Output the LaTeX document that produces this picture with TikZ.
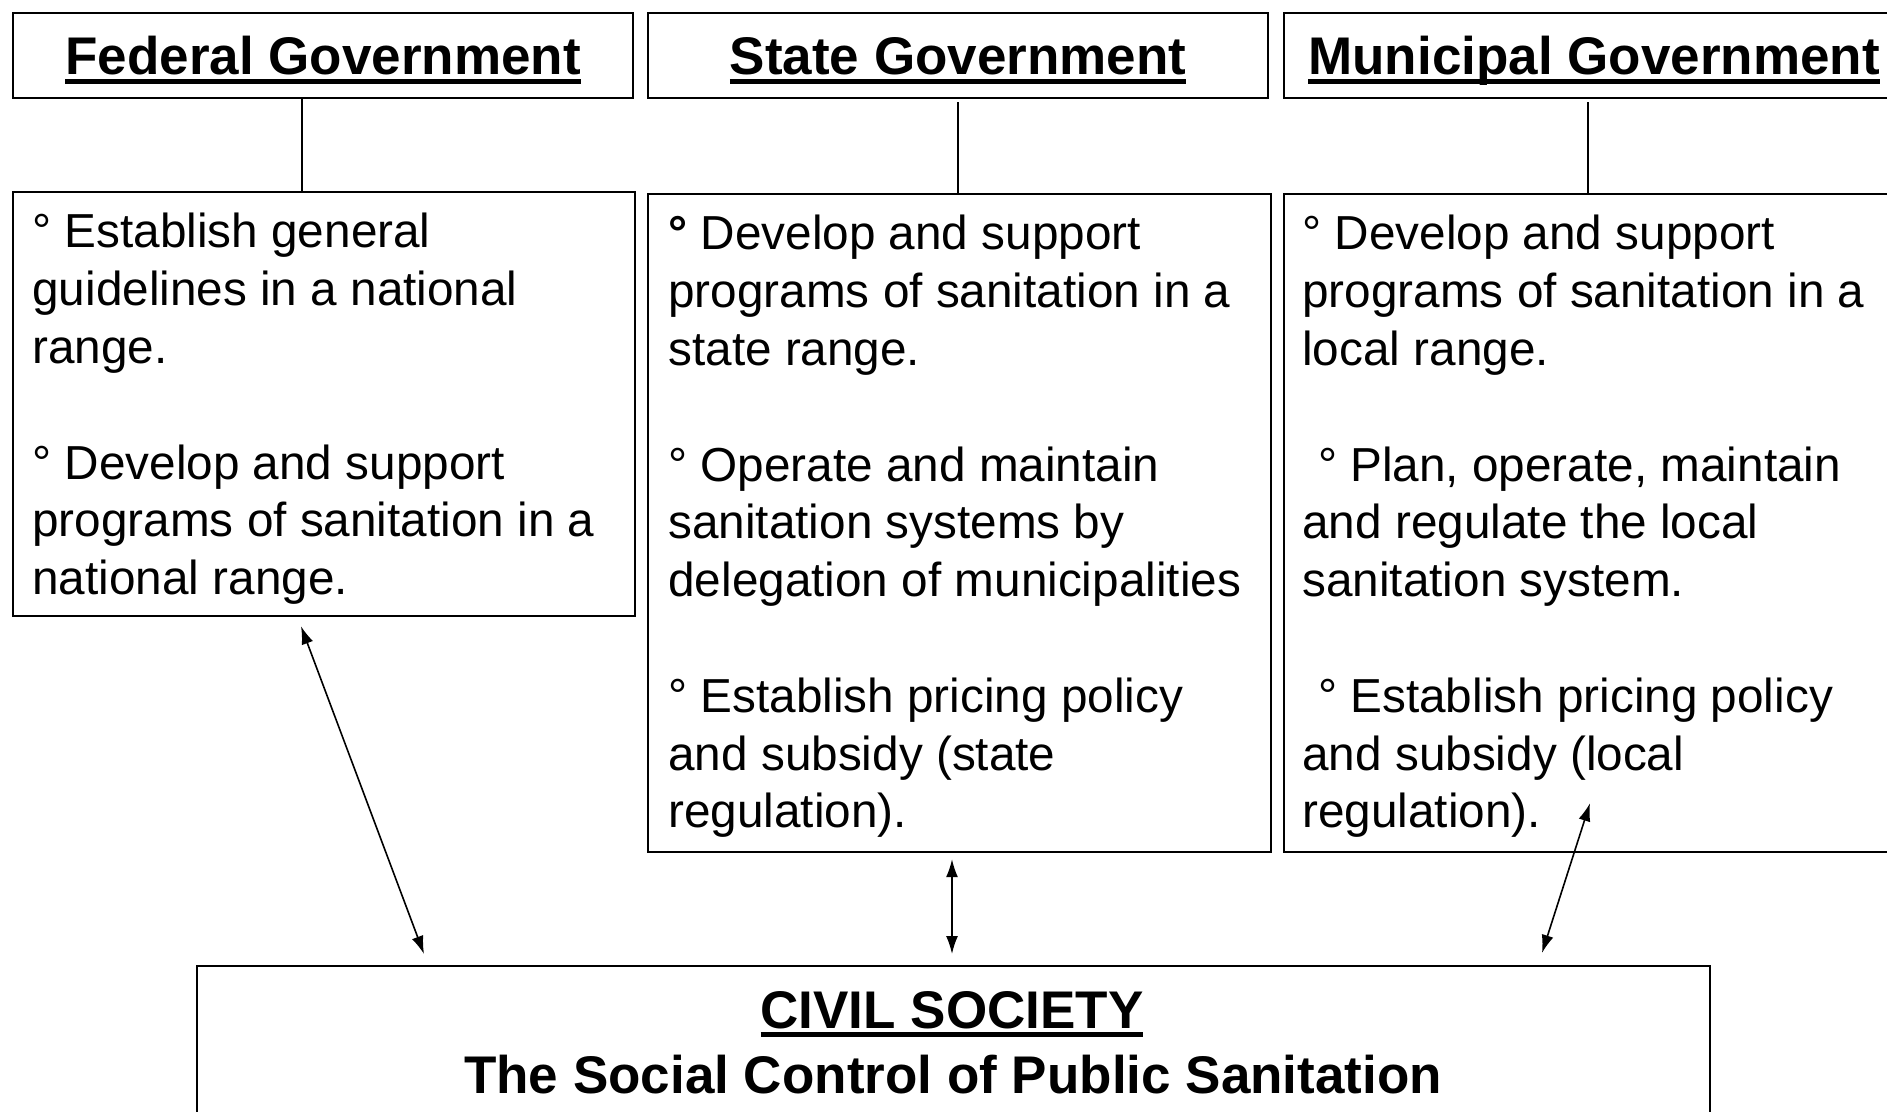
\documentclass[tikz,border=0pt]{standalone}
\usepackage{fontspec}
\setmainfont{Liberation Sans}
\usetikzlibrary{arrows.meta,calc}
\newcommand\thickul[1]{\setbox0\hbox{#1}\rlap{\rule[-4.5pt]{\wd0}{2.5pt}}\box0}
\begin{document}
\begin{tikzpicture}[x=0.5pt,y=-0.5pt,
  box/.style={draw, line width=1.1pt, inner sep=0pt, anchor=north west},
  head/.style={font=\fontsize{26.5}{30}\selectfont\bfseries, inner sep=0pt, anchor=base},
  body/.style={font=\fontsize{23.85}{28.9}\selectfont, align=left, anchor=north west, inner sep=0pt},
  conn/.style={line width=1pt},
  arr/.style={line width=0.8pt, {Latex[length=9pt,width=6pt]}-{Latex[length=9pt,width=6pt]}}]
\useasboundingbox (0,0) rectangle (1887,1112);
\clip (0,0) rectangle (1887,1112);
% header boxes
\node[box, minimum width=310pt, minimum height=42.5pt] (fedH) at (12,12) {};
\node[box, minimum width=310pt, minimum height=42.5pt] (stateH) at (647,12) {};
\node[box, minimum width=310pt, minimum height=42.5pt] (muniH) at (1283,12) {};
\node[head] (fedHt) at (fedH.center |- 0,75) {\thickul{Federal Government}};
\node[head] (stateHt) at (stateH.center |- 0,75) {\thickul{State Government}};
\node[head] (muniHt) at (muniH.center |- 0,75) {\thickul{Municipal Government}};
% body boxes
\node[box, minimum width=311pt, minimum height=212pt] (fedB) at (12,191) {};
\node[box, minimum width=311.5pt, minimum height=329pt] (stateB) at (647,193) {};
\node[box, minimum width=311.5pt, minimum height=329pt] (muniB) at (1283,193) {};
\node[body] (fedBt) at (32,213) {° Establish general\\guidelines in a national\\range.\\[28.9pt]° Develop and support\\programs of sanitation in a\\national range.};
\node[body] (stateBt) at (668,215) {\textbf{°} Develop and support\\programs of sanitation in a\\state range.\\[28.9pt]° Operate and maintain\\sanitation systems by\\delegation of municipalities\\[28.9pt]° Establish pricing policy\\and subsidy (state\\regulation).};
\node[body] (muniBt) at (1302,215) {° Develop and support\\programs of sanitation in a\\local range.\\[28.9pt]\hspace*{0.33em}° Plan, operate, maintain\\and regulate the local\\sanitation system.\\[28.9pt]\hspace*{0.33em}° Establish pricing policy\\and subsidy (local\\regulation).};
% civil society
\node[box, minimum width=756.5pt, minimum height=100pt] (civil) at (196,965) {};
\node[head] (civilT1) at (952,1028) {\thickul{CIVIL SOCIETY}};
\node[head] (civilT2) at (953,1093) {The Social Control of Public Sanitation};
% connectors
\draw[conn] (fedH.south -| 302,0) -- (fedB.north -| 302,0);
\draw[conn] ($(stateH.south)+(0,3)$) -- (stateB.north -| stateH.south);
\draw[conn] ($(muniH.south -| 1588,0)+(0,3)$) -- (muniB.north -| 1588,0);
% arrows
\draw[arr] ($(fedB.south west)+(289,9)$) -- ($(civil.north west)+(228,-11)$);
\draw[arr] ($(stateB.south west)+(305,6)$) -- ($(civil.north west)+(756,-11)$);
\draw[arr] ($(muniB.south west)+(307,-50)$) -- ($(civil.north west)+(1346,-12)$);
\end{tikzpicture}
\end{document}
